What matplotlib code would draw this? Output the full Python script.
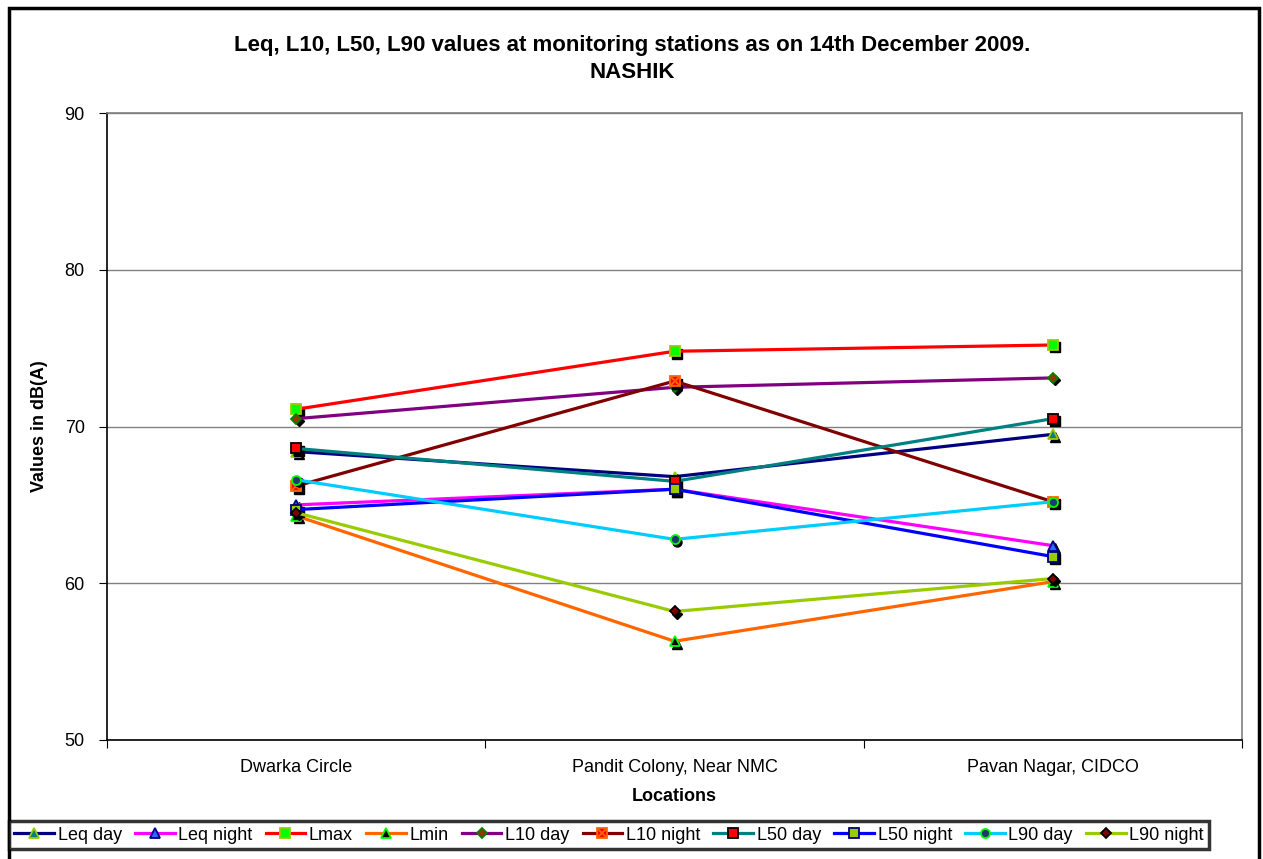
import numpy as np
import matplotlib
matplotlib.use("Agg")
import matplotlib.pyplot as plt
import matplotlib.transforms as mtransforms
from matplotlib.patches import Rectangle
from matplotlib.legend_handler import HandlerTuple

plt.rcParams['font.family'] = ['Liberation Sans', 'DejaVu Sans']

locations = ["Dwarka Circle", "Pandit Colony, Near NMC", "Pavan Nagar, CIDCO"]

leq_day = [68.4, 66.8, 69.5]
leq_night = [65.0, 66.0, 62.4]
lmax = [71.1, 74.8, 75.2]
lmin = [64.3, 56.3, 60.1]
l10_day = [70.5, 72.5, 73.1]
l10_night = [66.2, 72.9, 65.2]
l50_day = [68.6, 66.5, 70.5]
l50_night = [64.7, 66.0, 61.7]
l90_day = [66.6, 62.8, 65.2]
l90_night = [64.5, 58.2, 60.3]

# name, values, line colour, marker, face, edge
series = [
    ("Leq day", leq_day, "#000080", "^", "#008080", "#99CC00"),
    ("Leq night", leq_night, "#FF00FF", "^", "#3366FF", "#000080"),
    ("Lmax", lmax, "#FF0000", "s", "#00FF00", "#99CC00"),
    ("Lmin", lmin, "#FF6600", "^", "#000000", "#00FF00"),
    ("L10 day", l10_day, "#800080", "D", "#993300", "#008000"),
    ("L10 night", l10_night, "#800000", "s", "#FF0000", "#FF6600"),
    ("L50 day", l50_day, "#008080", "s", "#FF0000", "#000000"),
    ("L50 night", l50_night, "#0000FF", "s", "#99CC00", "#000080"),
    ("L90 day", l90_day, "#00CCFF", "o", "#1F3A6E", "#00FF00"),
    ("L90 night", l90_night, "#99CC00", "D", "#800000", "#000000"),
]

fig = plt.figure(figsize=(12.63, 8.59), dpi=100)
ax = fig.add_axes([107 / 1263, 1 - 740 / 859, (1242 - 107) / 1263, (740 - 113) / 859])

x = np.arange(len(locations)) + 0.5
shadow = mtransforms.offset_copy(ax.transData, fig=fig, x=2.5, y=-2.5, units='dots')

handles = []
for i, (name, vals, lc, mk, fc, ec) in enumerate(series):
    ms = 6.5 if mk != "D" else 5.5
    ax.plot(x, vals, linestyle='none', marker=mk, ms=ms, mfc='black', mec='black',
            transform=shadow, zorder=2 + i * 2)
    h, = ax.plot(x, vals, color=lc, lw=2.3, marker=mk, ms=ms, mfc=fc, mec=ec,
                 mew=1.3, zorder=3 + i * 2, label=name)
    if name == "L10 night":
        hx, = ax.plot(x, vals, linestyle='none', marker='x', ms=6, mec='#FF6600',
                      mew=1.3, zorder=3 + i * 2)
        handles.append((h, hx))
    else:
        handles.append(h)

ax.set_xlim(0, 3)
ax.set_ylim(50, 90)
ax.set_yticks([50, 60, 70, 80, 90])
ax.yaxis.grid(True, color='#808080', lw=1)
ax.set_axisbelow(True)
ax.set_xticks([0, 1, 2, 3])
ax.set_xticklabels([])
ax.set_xticks(x, minor=True)
ax.set_xticklabels(locations, minor=True, fontsize=13)
ax.tick_params(axis='x', which='minor', length=0, pad=14)
ax.tick_params(axis='x', which='major', length=6, direction='out', color='black')
ax.tick_params(axis='y', length=6, direction='out', labelsize=13, pad=10)
for s in ['left', 'bottom']:
    ax.spines[s].set_color('black')
    ax.spines[s].set_linewidth(1.2)
for s in ['top', 'right']:
    ax.spines[s].set_color('#808080')
    ax.spines[s].set_linewidth(1.2)

ax.set_ylabel("Values in dB(A)", fontsize=13, fontweight='bold', labelpad=12)
ax.set_xlabel("Locations", fontsize=13, fontweight='bold', labelpad=8)

fig.text(632 / 1263, 1 - 45 / 859, "Leq, L10, L50, L90 values at monitoring stations as on 14th December 2009.",
         ha='center', va='center', fontsize=16, fontweight='bold')
fig.text(632 / 1263, 1 - 72 / 859, "NASHIK", ha='center', va='center', fontsize=16, fontweight='bold')

# outer chart border
fig.patches.append(Rectangle((9 / 1263, -0.01), 1250 / 1263, 1.01 - 8 / 859,
                             transform=fig.transFigure, fill=False, ec='black', lw=2.5))

leg = fig.legend(handles, [s[0] for s in series], loc='center',
                 bbox_to_anchor=(609 / 1263, 1 - 835 / 859), ncol=10, fontsize=13,
                 frameon=True, fancybox=False, edgecolor='black', handlelength=2.2,
                 handletextpad=0.2, columnspacing=0.73, borderpad=0.3, borderaxespad=0,
                 handler_map={tuple: HandlerTuple(ndivide=1)})
leg.get_frame().set_linewidth(2.5)

fig.savefig("out.png", dpi=100)
